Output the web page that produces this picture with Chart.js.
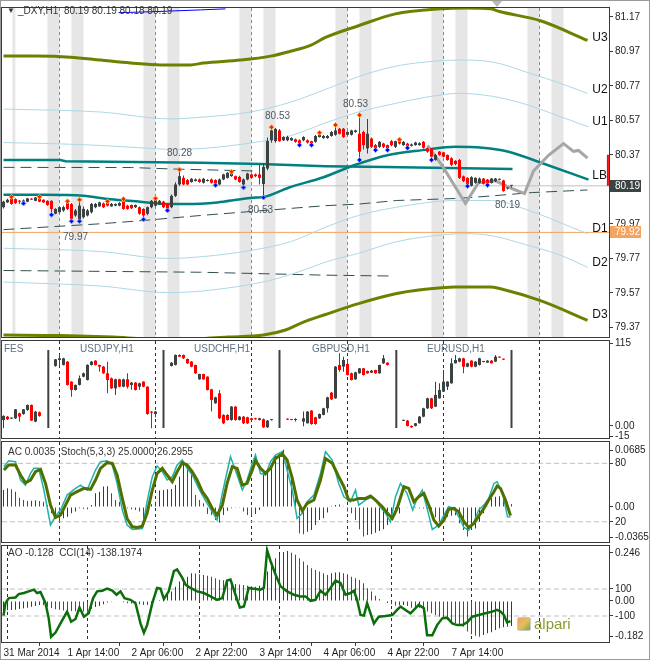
<!DOCTYPE html>
<html>
<head>
<meta charset="utf-8">
<script src="https://cdn.jsdelivr.net/npm/chart.js@4.4.1/dist/chart.umd.min.js"></script>
<style>
  body { margin: 0; background: #fff; }
  #wrap { position: relative; width: 650px; height: 660px; overflow: hidden; background: #fff;
          font-family: 'Liberation Sans', Arial, sans-serif; }
  #wrap canvas { position: absolute; left: 0; }
  .lbl { position: absolute; font-size: 10px; line-height: 12px; color: #333; white-space: pre; }
  .sym { color: #5f7080; }
  #outer { position: absolute; left: 0; top: 0; width: 648px; height: 658px; border: 1px solid #9a9a9a; pointer-events: none; }
  #logo { position: absolute; left: 517px; top: 617px; width: 12px; height: 12px; border: 1px solid #c8c8c8; border-radius: 2px;
          background: linear-gradient(135deg, #f4a460 0%, #e0c060 50%, #8aa030 100%); }
  #alpari { position: absolute; left: 534px; top: 615px; font-size: 15px; color: #8c9a30; }
  #shift { position: absolute; left: 492px; top: 1px; width: 0; height: 0; border-left: 5px solid transparent;
           border-right: 5px solid transparent; border-top: 6px solid #b8b8b8; }
</style>
</head>
<body>
<div id="wrap">
  <canvas id="c1" width="650" height="347" style="top:0px"></canvas>
  <canvas id="c2" width="650" height="120" style="top:330px"></canvas>
  <canvas id="c3" width="650" height="124" style="top:430px"></canvas>
  <canvas id="c4" width="650" height="126" style="top:534px"></canvas>

  <div class="lbl" style="left:7px;top:5px;font-size:8px">&#9660;</div>
  <div class="lbl" style="left:18px;top:5px">_DXY,H1  80.19 80.19 80.18 80.19</div>
  <div id="shift"></div>
  <div class="lbl sym" style="left:4px;top:343px">FES</div>
  <div class="lbl sym" style="left:80px;top:343px">USDJPY,H1</div>
  <div class="lbl sym" style="left:194px;top:343px">USDCHF,H1</div>
  <div class="lbl sym" style="left:312px;top:343px">GBPUSD,H1</div>
  <div class="lbl sym" style="left:427px;top:343px">EURUSD,H1</div>
  <div class="lbl" style="left:8px;top:446px">AC 0.0035  Stoch(5,3,3) 25.0000 26.2955</div>
  <div class="lbl" style="left:8px;top:547px">AO -0.128  CCI(14) -138.1974</div>
  <div id="logo"></div>
  <div id="alpari">alpari</div>
  <div id="outer"></div>
</div>

<script>
// ---- time axis (one slot per hourly bar) ----
const dayLines = [2, 26, 50, 74, 98, 122, 146];
const timeTicks = [0, 16, 32, 48, 64, 80, 96, 112];
const timeLabels = ['31 Mar 2014', '1 Apr 14:00', '2 Apr 06:00', '2 Apr 22:00', '3 Apr 14:00', '4 Apr 06:00', '4 Apr 22:00', '7 Apr 14:00'];
const sessionBands = [12.5, 18.5, 36.5, 42.5, 60.5, 66.5, 84.5, 90.5, 108.5, 114.5, 132.5, 138.5];
const sessionStub = [2.6];

// ---- _DXY H1 candles ----
const mainOpen = [
  80.066,80.094,80.120,80.113,80.103,80.095,80.098,80.113,80.103,80.117,80.109,80.103,80.103,80.028,80.037,80.047,
  80.090,80.084,80.018,79.990,80.008,80.018,80.037,80.066,80.071,80.088,80.094,80.071,80.075,80.075,80.098,80.075,
  80.079,80.066,80.066,80.056,80.028,80.066,80.075,80.085,80.098,80.085,80.066,80.132,80.198,80.236,80.223,80.212,
  80.218,80.227,80.208,80.218,80.227,80.223,80.198,80.227,80.236,80.246,80.246,80.242,80.198,80.227,80.256,80.256,
  80.256,80.200,80.290,80.454,80.449,80.511,80.454,80.454,80.454,80.460,80.454,80.454,80.454,80.449,80.445,80.473,
  80.467,80.467,80.479,80.486,80.521,80.521,80.486,80.486,80.502,80.492,80.502,80.407,80.464,80.426,80.416,80.435,
  80.426,80.449,80.416,80.454,80.426,80.435,80.422,80.426,80.426,80.445,80.407,80.407,80.340,80.388,80.384,80.369,
  80.350,80.335,80.340,80.245,80.236,80.190,80.207,80.207,80.232,80.226,80.207,80.217,80.225,80.221,80.175,80.190];
const mainHigh = [
  80.104,80.115,80.126,80.118,80.108,80.110,80.120,80.118,80.125,80.126,80.112,80.106,80.106,80.060,80.070,80.075,
  80.100,80.090,80.055,80.109,80.070,80.055,80.090,80.090,80.098,80.094,80.100,80.090,80.088,80.095,80.113,80.080,
  80.082,80.082,80.070,80.060,80.070,80.108,80.117,80.108,80.103,80.088,80.140,80.210,80.284,80.250,80.230,80.236,
  80.232,80.232,80.236,80.228,80.232,80.228,80.232,80.260,80.270,80.271,80.250,80.248,80.232,80.266,80.262,80.262,
  80.318,80.320,80.470,80.530,80.525,80.520,80.478,80.480,80.472,80.465,80.460,80.478,80.460,80.452,80.484,80.498,
  80.485,80.485,80.508,80.543,80.525,80.525,80.506,80.515,80.515,80.600,80.510,80.578,80.470,80.432,80.450,80.440,
  80.430,80.455,80.452,80.458,80.450,80.440,80.435,80.445,80.442,80.450,80.412,80.410,80.375,80.392,80.388,80.372,
  80.355,80.338,80.345,80.250,80.240,80.245,80.240,80.238,80.236,80.230,80.236,80.236,80.232,80.225,80.180,80.190];
const mainLow = [
  80.058,80.090,80.080,80.085,80.085,80.088,80.095,80.108,80.100,80.095,80.090,80.075,80.022,80.025,80.030,80.040,
  80.050,79.984,80.010,79.984,80.000,80.012,80.030,80.060,80.068,80.062,80.070,80.068,80.072,80.072,80.052,80.052,
  80.056,80.062,80.022,79.995,80.020,80.060,80.070,80.080,80.062,80.047,80.060,80.125,80.190,80.194,80.194,80.208,
  80.215,80.208,80.204,80.215,80.204,80.193,80.194,80.222,80.232,80.242,80.222,80.208,80.180,80.222,80.232,80.240,
  80.198,80.122,80.280,80.440,80.440,80.445,80.450,80.448,80.450,80.440,80.426,80.448,80.436,80.426,80.440,80.470,
  80.463,80.463,80.475,80.480,80.488,80.468,80.482,80.482,80.498,80.340,80.400,80.378,80.410,80.397,80.410,80.410,
  80.397,80.420,80.410,80.430,80.422,80.410,80.418,80.422,80.422,80.405,80.382,80.340,80.335,80.365,80.355,80.335,
  80.305,80.310,80.230,80.212,80.188,80.186,80.202,80.202,80.198,80.194,80.203,80.212,80.222,80.155,80.168,80.180];
const mainClose = [
  80.098,80.109,80.085,80.090,80.098,80.105,80.117,80.110,80.122,80.098,80.094,80.079,80.056,80.056,80.066,80.066,
  80.056,79.999,80.047,80.075,80.056,80.047,80.085,80.085,80.094,80.066,80.075,80.085,80.085,80.090,80.056,80.056,
  80.060,80.079,80.028,80.018,80.066,80.103,80.109,80.103,80.066,80.056,80.132,80.198,80.246,80.198,80.198,80.231,
  80.227,80.212,80.231,80.223,80.208,80.198,80.227,80.256,80.265,80.265,80.227,80.212,80.227,80.261,80.236,80.246,
  80.236,80.300,80.450,80.511,80.520,80.449,80.473,80.473,80.467,80.445,80.430,80.473,80.441,80.435,80.479,80.486,
  80.479,80.479,80.502,80.511,80.492,80.473,80.502,80.511,80.511,80.388,80.426,80.492,80.416,80.407,80.445,80.416,
  80.407,80.426,80.449,80.435,80.445,80.411,80.430,80.441,80.437,80.411,80.388,80.359,80.369,80.369,80.359,80.340,
  80.312,80.316,80.236,80.217,80.194,80.240,80.236,80.232,80.202,80.198,80.232,80.232,80.227,80.160,80.176,80.190];

const fractalHighs = [2, 9, 16, 19, 26, 30, 38, 44, 57, 67, 79, 83, 89, 99];
const fractalLows = [5, 12, 17, 19, 35, 41, 53, 60, 65, 74, 77, 89, 93, 96, 101, 107, 116, 121];

// ---- channel lines: [bar, price] ----
const bandU3 = [[0,80.942],[8,80.942],[16.75,80.936],[24.25,80.919],[31.75,80.902],[39.25,80.891],[46.75,80.891],[50,80.902],[59.25,80.919],[66.75,80.942],[71.75,80.970],[76.75,81.004],[80.5,81.050],[88.75,81.118],[98,81.187],[109.25,81.216],[115.5,81.221],[121.75,81.216],[124.25,81.199],[134.25,81.147],[146,81.033]];
const bandU2 = [[0,80.635],[24.25,80.618],[41.75,80.578],[50,80.589],[61.75,80.618],[71.75,80.675],[80.5,80.749],[88.75,80.823],[97.25,80.880],[105.5,80.908],[113.75,80.919],[122.25,80.908],[130.5,80.851],[138.75,80.788],[146,80.726]];
const bandU1 = [[0,80.441],[11.75,80.435],[24.25,80.424],[36.75,80.407],[41.75,80.401],[50,80.407],[59.25,80.430],[64.25,80.447],[71.75,80.481],[80.5,80.555],[88.75,80.618],[98.25,80.669],[105.5,80.703],[113.75,80.726],[122.25,80.709],[130.5,80.663],[138.75,80.595],[146.25,80.532]];
const bandD1 = [[0,79.828],[24.25,79.809],[41,79.769],[50,79.780],[61.75,79.815],[71.75,79.866],[80.5,79.950],[88.75,80.018],[98,80.065],[113.75,80.105],[122.25,80.105],[130.5,80.054],[146,79.912]];
const bandD2 = [[0,79.632],[24.25,79.609],[41,79.571],[50,79.581],[66,79.638],[74.25,79.695],[80.5,79.748],[88.75,79.799],[98.25,79.866],[109.75,79.906],[115.5,79.913],[122.25,79.900],[130.5,79.849],[138.75,79.792],[146,79.718]];
const bandD3 = [[0,79.325],[14.25,79.322],[27.5,79.313],[36.75,79.302],[46.75,79.302],[56,79.313],[65,79.325],[70.5,79.354],[74.25,79.393],[80.5,79.444],[88.75,79.507],[98,79.564],[104.25,79.587],[113,79.604],[121.75,79.604],[124.25,79.593],[134.25,79.524],[146,79.410]];
const tealFlat = [[0,80.339],[14.25,80.339],[15.5,80.333],[49.25,80.324],[64.25,80.316],[80.5,80.304],[95.5,80.299],[127.25,80.287]];
const tealCurve = [[0,80.138],[10,80.138],[20,80.132],[26.75,80.112],[34.25,80.098],[41,80.084],[46,80.084],[53.5,80.094],[59.25,80.112],[63,80.122],[65,80.125],[71.25,80.179],[80,80.240],[88,80.312],[96.25,80.369],[104.75,80.397],[113,80.417],[119.75,80.411],[126.25,80.388],[134.75,80.321],[146.25,80.226]];
const dashTop = [[0,80.297],[32,80.296],[43,80.287],[63,80.276]];
const dashSlope = [[0,79.936],[24.25,79.970],[35,79.989],[49.25,80.018],[61.75,80.041],[80.5,80.075],[88.75,80.084],[98.25,80.105],[113.75,80.117],[122.25,80.132],[132.25,80.151],[146,80.166]];
const dashLow = [[0,79.699],[49.25,79.689],[80.5,79.672],[97.25,79.667]];
const blueTop = [[28.75,81.194],[36.75,81.199],[49.25,81.210],[55.5,81.216]];
const zigzag = [[106,80.424],[109.75,80.304],[115.5,80.088],[118.75,80.208],[123,80.219],[127.25,80.173],[130.25,80.145],[132.5,80.276],[136.25,80.367],[140,80.435],[142.5,80.390],[143.75,80.395],[146,80.350]];
const lastPrice = 80.19;
const pivotLevel = 79.92;
const edgeBar = [151.1, 80.19, 80.37];

const mainTicks = [81.17, 80.97, 80.77, 80.57, 80.37, 79.97, 79.77, 79.57, 79.37];
const bandNames = [['U3',81.050],['U2',80.749],['U1',80.561],['LB',80.247],['D1',79.940],['D2',79.746],['D3',79.444]];
const notes = [[68.5,80.595,'80.53'],[88,80.663,'80.53'],[44,80.378,'80.28'],[18,79.894,'79.97'],[64.25,80.048,'80.53'],[126,80.077,'80.19']];

// ---- multi-symbol strip: [open, high, low, close] ----
const fes = [[8.1,14.5,-3.5,13.7],[12.7,13.5,8.0,9.1],[10.0,11.5,9.5,10.8],[10.4,23.5,9.5,22.9],[17.4,18,5.8,12.7],[16.4,23.5,15.5,22.9],[22.0,29.5,21,29.0],[29.0,29.5,6.5,7.2],[5.8,20.5,5,19.7],[18.8,20,12.7,13.7]];
const usdjpy = [[83.2,93,82,92.4],[91.5,99.9,83.2,93.8],[84.6,94.5,84,93.8],[89.2,90,56,56.8],[61.4,62,40.5,49.8],[49.8,57.5,49,56.8],[56.8,70,56,66.0],[68.3,74,67.5,73.0],[63.7,85.5,63,84.6],[84.6,90,84,89.2],[90.6,91,84,84.6],[84.6,85,75.3,82.2],[82.2,83,72,73.0],[73.0,89.2,45.2,63.7],[66.0,67,51,52.1],[52.1,65.5,42.9,64.6],[64.6,65.5,53.5,54.4],[54.4,65.5,53.5,64.6],[64.6,73,52,54.4],[56.8,61,50,60.0],[60.0,61,49,49.8],[54.4,60,50,59.1],[61.4,62,53.5,54.4],[54.4,55,15.5,16.4],[19.7,20.5,-3.5,18.3],[16.4,20.5,11.8,19.7]];
const usdchf = [[83.2,88.5,82.5,87.8],[84.6,99,84,98.5],[98.5,99,95.5,96.1],[98.5,99,93,93.8],[92.9,93.5,86,86.9],[89.2,90,81.5,82.2],[84.6,85,72,73.0],[64.6,72.5,64,72.0],[72.0,72.5,64,64.6],[68.3,69,49,49.8],[50.7,51.5,19.7,35.9],[31.3,40.5,30.5,39.6],[45.2,49.8,9.5,10.4],[15.1,16,2.5,3.5],[15.1,16,7.2,8.1],[8.1,27.5,7,26.6],[26.6,27.5,7,8.1],[8.1,13.5,7.5,12.7],[12.7,13.5,2.5,3.5],[11.8,12.5,2.5,3.5],[10.4,11,7.5,8.1],[10.4,11,8.5,9.1],[8.1,11,7.5,10.4],[9.1,10,-3,-2.1],[-2.1,8,-3,7.2],[7.8,9,7.2,8.4]];
const gbpusd = [[9.6,10,8.2,8.6],[9.1,9.5,7.7,8.1],[8,10.4,5.8,8.5],null,[5.8,19.7,-0.7,10.4],[3.5,20.5,3,19.7],[21.1,22,1.5,2.5],[11.8,12.5,1.5,2.5],[10.4,17,9.5,16.4],[15.1,25,14.5,24.3],[24.3,40.5,18.3,39.6],[46.1,47,36,36.8],[38.2,83,37.5,82.2],[84.6,100.8,75.3,77.6],[82.2,96.1,75.3,91.5],[86,91.5,70,70.7],[73.0,74,63,63.7],[64.6,75,64,74.4],[73.0,80.5,72.5,79.9],[79.9,80.5,70,70.7],[76.2,77,72.5,73.0],[73.9,77.5,73.5,76.7],[77.6,78,72.5,73.0],[73.0,85,72.5,84.6],[86.9,98.5,86,93.8],[87.8,88.5,84,84.6]];
const eurusd = [[6.9,8.5,6.5,7.6],[7.2,8,-1,-0.2],[-0.2,0.5,-2.8,-2.1],[-0.2,4,-1,3.5],[3.5,13.5,3,12.7],[12.7,25,12,24.3],[24.3,39,23.5,38.2],[38.2,39,23.5,24.3],[26.6,61.4,26,42.9],[38.2,59.1,37.5,49.8],[47.5,77.6,47,61.4],[54.4,62,49.8,61.4],[59.1,93.8,58.5,86.9],[86.9,98.5,86.5,91.5],[89.2,94.5,88.5,93.8],[93.8,94.5,73.0,82.2],[82.2,87.5,81.5,86.9],[90.6,91,81.5,82.2],[82.2,90,81.5,89.2],[84.6,94.5,84,93.8],[88.8,90,88.5,89.6],[87.8,91,87.5,90.6],[90.6,91.5,86.5,86.9],[89.2,98.5,88.8,96.1],[95.7,96.1,94.5,94.8],[92.9,93.3,91.5,92.0]];
const miniStarts = [0, 13, 42, 71, 100];
const miniDividers = [11.2, 40, 69, 98.2, 127];
const miniTicks = [115, 0, -15];

// ---- AC + Stochastic ----
const ac = [
  0.0205,0.0225,0.0213,0.0185,0.0113,0.0085,0.0072,0.0076,0.0080,0.0072,0.0064,0.0024,-0.0076,-0.0137,-0.0177,-0.0137,
  -0.0117,-0.0076,-0.0056,-0.0016,-0.0020,-0.0028,0.0024,0.0165,0.0185,0.0246,0.0250,0.0165,0.0085,0.0064,0.0044,-0.0016,
  -0.0028,-0.0036,-0.0056,-0.0149,-0.0076,0.0032,0.0064,0.0200,0.0205,0.0213,0.0217,0.0266,0.0366,0.0519,0.0487,0.0447,
  0.0145,0.0085,0.0044,-0.0085,-0.0097,-0.0157,-0.0189,-0.0097,-0.0044,-0.0016,-0.0008,-0.0004,-0.0056,-0.0097,-0.0109,-0.0085,
  -0.0036,0.0407,0.0447,0.0527,0.0628,0.0650,0.0690,0.0568,0.0346,0.0205,-0.0318,-0.0330,-0.0300,-0.0278,-0.0217,-0.0157,
  -0.0137,-0.0068,0.0012,0.0024,0.0030,0.0004,-0.0056,-0.0076,-0.0157,-0.0270,-0.0358,-0.0338,-0.0330,-0.0310,-0.0290,-0.0270,
  -0.0217,-0.0157,-0.0097,-0.0080,-0.0006,-0.0008,-0.0010,-0.0012,-0.0014,-0.0018,-0.0036,-0.0097,-0.0125,-0.0177,-0.0157,-0.0117,
  -0.0105,-0.0100,-0.0197,-0.0278,-0.0358,-0.0278,-0.0260,-0.0177,-0.0076,0.0004,0.0105,0.0125,0.0130,0.0093,0.0040,0.0035];
const stochSignal = [[0.1,73.1],[1.3,78.3],[3,78.3],[4.25,68.0],[5.5,60.1],[6.75,62.9],[8,71.4],[9.25,73.8],[10.5,59.4],[11.75,37.1],[13,24.4],[14.25,26.8],[15.5,37.1],[16.75,47.4],[18.4,50.9],[20.1,54.3],[21.75,53.3],[23,62.9],[24.25,74.9],[25.9,80.7],[27.2,80.0],[28.4,68.0],[29.7,44.0],[30.9,23.4],[32.2,14.8],[33.4,14.2],[34.7,15.5],[35.9,28.6],[37.2,52.6],[38.4,69.7],[39.7,74.9],[40.9,68.0],[42.2,61.1],[43.4,71.4],[44.7,80.7],[45.9,78.3],[47.2,71.4],[48.4,62.9],[49.7,50.9],[50.9,44.0],[52.2,33.7],[53.4,26.8],[54.7,37.1],[55.9,59.4],[57.2,76.6],[58.4,74.9],[59.7,57.7],[60.9,59.4],[62.2,73.1],[63,82.7],[64.25,74.9],[65.5,69.7],[66.75,74.9],[68,85.1],[69.7,89.6],[70.9,83.4],[72.2,64.6],[73.4,42.3],[74.7,31.3],[75.9,38.8],[77.6,42.3],[79.25,62.9],[80.5,85.0],[82.2,80.0],[83.8,66.3],[85.1,56.0],[86.3,42.3],[87.6,42.3],[88.8,44.0],[90.5,44.0],[91.75,46.4],[93,42.3],[94.7,35.4],[95.9,29.2],[97.2,23.4],[98.4,33.7],[100.1,56.0],[101.3,54.3],[102.6,40.6],[103.8,45.7],[105.1,49.1],[106.3,37.1],[107.6,21.7],[108.8,15.5],[110.1,21.7],[111.3,32.7],[112.6,33.7],[113.8,30.3],[115.1,20.0],[116.3,14.2],[117.6,18.3],[118.8,25.8],[120.1,33.7],[121.3,42.3],[122.6,50.9],[123.4,56.7],[124.25,54.3],[125.5,42.3],[126.75,26.3]];
const stochMain = [[0.1,76.6],[1.3,82.7],[3,81.7],[4.25,62.9],[5.5,57.7],[6.75,69.7],[7.6,74.9],[8.8,74.9],[10.1,52.6],[11.75,16.6],[13,25.8],[14.25,32.0],[15.9,47.4],[18,54.3],[19.25,57.7],[20.9,52.6],[23,73.1],[24.25,81.7],[25.9,82.7],[27.2,78.3],[28.4,59.4],[29.7,32.0],[30.9,16.6],[32.2,12.1],[34.7,13.1],[35.9,40.6],[37.2,66.3],[38.4,77.3],[39.7,71.4],[40.9,62.9],[42.2,66.3],[43.4,78.3],[44.7,83.4],[45.9,74.9],[47.2,68.0],[48.4,57.7],[49.7,47.4],[50.9,38.8],[52.2,30.3],[53.4,21.7],[54.7,49.1],[55.9,71.4],[56.75,86.9],[58.4,68.0],[59.7,52.6],[60.9,62.9],[62.2,80.0],[63,88.6],[64.25,69.7],[65.5,68.0],[66.75,81.7],[68,88.6],[69.7,92.0],[70.9,73.1],[72.2,52.6],[73.4,23.4],[74.7,28.6],[75.9,40.6],[77.6,47.4],[79.25,69.7],[80.5,92.0],[82.2,83.4],[83.8,59.4],[85.1,45.7],[86.75,40.6],[88,52.6],[88.8,37.1],[90.5,42.3],[92.2,45.7],[93.8,37.1],[95.5,28.6],[96.75,20.0],[98,45.7],[99.25,59.4],[100.9,49.1],[102.3,32.0],[103.4,44.0],[104.7,52.6],[106,32.0],[107.2,12.1],[108.8,16.6],[110.1,26.8],[111.3,35.4],[112.6,33.7],[113.8,25.1],[115.1,14.2],[116.3,11.4],[117.6,20.0],[118.8,32.0],[120.1,37.1],[121.3,44.0],[122.6,59.4],[123.4,61.1],[124.8,49.1],[126,25.1],[126.75,25.0]];
const stochLevels = [80, 20];

// ---- AO + CCI ----
const ao = [
  -0.048,-0.047,-0.046,-0.045,-0.041,-0.037,-0.034,-0.029,-0.026,-0.020,-0.022,-0.029,-0.036,-0.042,-0.045,-0.048,
  -0.050,-0.051,-0.052,-0.053,-0.054,-0.055,-0.040,-0.030,-0.026,-0.017,-0.008,-0.004,-0.002,-0.003,-0.007,-0.011,
  -0.013,-0.015,-0.017,-0.020,-0.021,-0.012,-0.003,0.005,0.017,0.031,0.048,0.073,0.099,0.116,0.124,0.141,
  0.140,0.136,0.133,0.129,0.124,0.116,0.108,0.106,0.102,0.096,0.087,0.084,0.082,0.078,0.075,0.073,
  0.078,0.099,0.150,0.192,0.218,0.235,0.250,0.255,0.246,0.236,0.218,0.201,0.184,0.167,0.158,0.150,
  0.141,0.133,0.141,0.146,0.147,0.141,0.136,0.124,0.116,0.107,0.090,0.065,0.048,0.027,0.010,-0.002,
  -0.010,-0.017,-0.024,-0.022,-0.020,-0.026,-0.034,-0.041,-0.034,-0.046,-0.054,-0.063,-0.071,-0.080,-0.088,-0.097,
  -0.105,-0.114,-0.122,-0.131,-0.156,-0.170,-0.177,-0.182,-0.173,-0.165,-0.160,-0.148,-0.139,-0.134,-0.131,-0.128];
const cci = [[0,-97.5],[0.5,-5],[1.33,32.5],[3,37.5],[3.8,62.5],[5.1,70],[6.3,82.5],[7.6,95],[8.4,70],[9.25,77.5],[10.5,-5],[11.3,-117.5],[11.9,-255],[13,-222.5],[14.25,-155],[15.9,-67.5],[16.9,-142.5],[18,-122.5],[19,-37.5],[20.1,-105],[21.3,-80],[22.4,32.5],[23.4,82.5],[24.7,87.5],[25.9,102.5],[27.2,87.5],[28.25,57.5],[29.25,82.5],[30.25,32.5],[31.75,20],[33,-5],[34.25,-155],[35.1,-225],[35.9,-167.5],[37.2,-5],[38.4,107.5],[39.25,102.5],[40.1,25],[41.3,82.5],[42.6,232.5],[43.4,245],[44.7,182.5],[45.5,132.5],[46.75,107.5],[48.4,82.5],[50.1,70],[51.75,45],[53.4,20],[54.7,32.5],[55.9,162.5],[56.75,170],[58,57.5],[59.1,-37.5],[60.1,-30],[61.3,107.5],[62.6,102.5],[64.25,95],[65.1,107.5],[65.9,387.5],[66.75,307.5],[68,207.5],[69.25,120],[70.9,82.5],[72.6,57.5],[74.25,45],[75.5,45],[76.75,12.5],[78,20],[79.25,87.5],[80.5,57.5],[81.75,107.5],[83,162.5],[84.25,145],[85.5,57.5],[86.75,70],[87.6,87.5],[88.4,20],[89.25,-92.5],[90.1,-97.5],[90.9,-5],[91.75,-80],[92.6,-155],[93.8,-105],[95.5,-100],[97.2,-92.5],[98.4,-55],[99.25,-30],[100.5,-55],[101.75,-80],[102.6,-55],[103.8,-17.5],[105.1,-42.5],[105.9,-242.5],[107.2,-242.5],[108.4,-167.5],[109.7,-117.5],[110.9,-112.5],[112.2,-155],[113.4,-167.5],[114.7,-167.5],[115.9,-147.5],[117.2,-105],[118.8,-92.5],[120.5,-80],[122.2,-67.5],[123.4,-55],[124.25,-67.5],[125.1,-92.5],[125.9,-147.5],[126.75,-138.2]];
const cciLevels = [100, -100];

// ---- scale ranges ----
const X_MIN = -0.375, X_MAX = 151.375;
const MAIN_MIN = 79.3135, MAIN_MAX = 81.221;
const MINI_MIN = -17.0, MINI_MAX = 117.9;
const ST_MIN = -0.8, ST_MAX = 101.95, AC_MIN = -0.0423, AC_MAX = 0.0785;
const AO_MIN = -0.2092, AO_MAX = 0.2806, CCI_MIN = -292.6, CCI_MAX = 418.5;

const UP = '#3c4242', DOWN = '#ff0000', GREEN = '#006400', FRAME = '#3a3a3a';
Chart.defaults.font.family = "'Liberation Sans', Arial, sans-serif";
Chart.defaults.font.size = 10;

function pts(list) { return list.map(p => ({x: p[0], y: p[1]})); }

function line(list, color, width, extra) {
  return Object.assign({type: 'line', data: pts(list), borderColor: color, borderWidth: width,
    pointRadius: 0, fill: false, order: 5}, extra || {});
}

function level(v, color, dash, axis) {
  return {type: 'line', data: [{x: X_MIN, y: v}, {x: X_MAX, y: v}], borderColor: color, borderWidth: 1,
    borderDash: dash || [], pointRadius: 0, yAxisID: axis || 'y', order: 8};
}

// floating bars: 1px wick, 3px body, no anti-alias inflation
function bar(data, color, thickness, order, extra) {
  return Object.assign({type: 'bar', data: data, backgroundColor: color, barThickness: thickness,
    inflateAmount: 0, grouped: false, order: order}, extra || {});
}

function candleSets(rows, start) {
  const wick = [], body = [], col = [];
  rows.forEach((r, k) => {
    if (!r) return;
    wick.push({x: start + k, y: [r[2], r[1]]});
    body.push({x: start + k, y: [r[0], r[3]]});
    col.push(r[3] >= r[0] ? UP : DOWN);
  });
  return [bar(wick, col, 1, 2), bar(body, col, 3, 1, {minBarLength: 1})];
}

function histogram(values) {
  const col = values.map((v, i) => (i > 0 && v < values[i - 1]) ? DOWN : GREEN);
  return bar(values.map((v, i) => ({x: i, y: v})), col, 1, 3);
}

function isDay(c) { return !!(c && c.tick) && dayLines.indexOf(c.tick.value) >= 0; }

function dayAxis(bottom) {
  return {
    type: 'linear', min: X_MIN, max: X_MAX, offset: false,
    afterBuildTicks: s => { s.ticks = (bottom ? dayLines.concat(timeTicks).sort((a, b) => a - b) : dayLines).map(v => ({value: v})); },
    afterFit: s => { s.height = bottom ? 18 : 0; },
    ticks: {display: !!bottom, autoSkip: false, maxRotation: 0, align: 'start', padding: 1, color: '#1e1e1e',
            callback: v => { const k = timeTicks.indexOf(v); return k >= 0 ? timeLabels[k] : ''; }},
    grid: {color: c => isDay(c) ? '#2e2e2e' : 'rgba(0,0,0,0)', lineWidth: 1, drawTicks: !!bottom, tickLength: 4,
           tickColor: c => isDay(c) ? 'rgba(0,0,0,0)' : FRAME},
    border: {display: !!bottom, color: FRAME, dash: [3, 3]}
  };
}

function rightAxis(min, max, ticks, labels) {
  return {
    type: 'linear', position: 'right', min: min, max: max,
    afterFit: s => { s.width = 41; },
    afterBuildTicks: s => { s.ticks = ticks.map(v => ({value: v})); },
    ticks: {autoSkip: false, padding: 2, color: '#1e1e1e', callback: (v, i) => labels[i]},
    grid: {drawOnChartArea: false, tickLength: 4, color: FRAME},
    border: {color: FRAME}
  };
}

const frame = {
  id: 'frame',
  afterDraw(chart) {
    const a = chart.chartArea, ctx = chart.ctx;
    ctx.save();
    ctx.strokeStyle = FRAME;
    ctx.lineWidth = 1;
    ctx.strokeRect(a.left - 0.5, a.top - 0.5, a.right - a.left + 1, a.bottom - a.top + 1);
    ctx.restore();
  }
};

const mainText = {
  id: 'mainText',
  afterDraw(chart) {
    const ctx = chart.ctx, xs = chart.scales.x, ys = chart.scales.y;
    ctx.save();
    ctx.textBaseline = 'middle';
    ctx.font = "10px 'Liberation Sans', Arial";
    ctx.textAlign = 'center';
    ctx.fillStyle = '#4e5a66';
    notes.forEach(n => ctx.fillText(n[2], xs.getPixelForValue(n[0]), ys.getPixelForValue(n[1])));
    ctx.textAlign = 'left';
    ctx.font = "12px 'Liberation Sans', Arial";
    ctx.fillStyle = '#111';
    bandNames.forEach(b => ctx.fillText(b[0], xs.getPixelForValue(147.2), ys.getPixelForValue(b[1])));
    ctx.font = "10px 'Liberation Sans', Arial";
    [[lastPrice, '#3c4343'], [pivotLevel, '#f4a460']].forEach(p => {
      const y = Math.round(ys.getPixelForValue(p[0]));
      ctx.fillStyle = p[1];
      ctx.fillRect(chart.chartArea.right + 1, y - 6, 31, 12);
      ctx.fillStyle = '#fff';
      ctx.fillText(p[0].toFixed(2), chart.chartArea.right + 6, y);
    });
    ctx.restore();
  }
};

function opts(pad, scales) {
  return {
    animation: false, responsive: false, maintainAspectRatio: false,
    layout: {padding: pad, autoPadding: false},
    plugins: {legend: {display: false}, tooltip: {enabled: false}},
    scales: scales
  };
}

// ---- main chart ----
const mainRows = mainOpen.map((o, i) => [o, mainHigh[i], mainLow[i], mainClose[i]]);
const mainSets = candleSets(mainRows, 0).concat([
  {type: 'line', data: fractalHighs.map(i => ({x: i, y: mainHigh[i]})), showLine: false, pointStyle: 'rectRot',
   pointRadius: 2.5, pointBackgroundColor: '#ff2000', pointBorderColor: '#ffb040', pointBorderWidth: 1, order: 0},
  {type: 'line', data: fractalLows.map(i => ({x: i, y: mainLow[i]})), showLine: false, pointStyle: 'rectRot',
   pointRadius: 2.5, pointBackgroundColor: '#0000ff', pointBorderColor: '#80b0ff', pointBorderWidth: 1, order: 0},
  line(zigzag, '#a6a6a6', 3, {order: 3}),
  line(bandU3, '#6b8200', 3, {cubicInterpolationMode: 'monotone'}),
  line(bandD3, '#6b8200', 3, {cubicInterpolationMode: 'monotone'}),
  line(bandU2, '#add8e6', 1, {cubicInterpolationMode: 'monotone'}),
  line(bandU1, '#add8e6', 1, {cubicInterpolationMode: 'monotone'}),
  line(bandD1, '#add8e6', 1, {cubicInterpolationMode: 'monotone'}),
  line(bandD2, '#add8e6', 1, {cubicInterpolationMode: 'monotone'}),
  line(tealFlat, '#008080', 2.5),
  line(tealCurve, '#008080', 2.5, {cubicInterpolationMode: 'monotone'}),
  line(dashTop, '#2f4f4f', 1, {borderDash: [11, 6]}),
  line(dashSlope, '#2f4f4f', 1, {borderDash: [11, 6]}),
  line(dashLow, '#2f4f4f', 1, {borderDash: [11, 6]}),
  line(blueTop, '#0000ff', 1),
  level(lastPrice, '#c0c0c0'),
  level(pivotLevel, '#f4a460'),
  bar([{x: edgeBar[0], y: [edgeBar[1], edgeBar[2]]}], DOWN, 2, 1),
  bar(sessionBands.map(i => ({x: i, y: [MAIN_MIN, MAIN_MAX]})), '#e6e6e6', 12, 30),
  bar(sessionStub.map(i => ({x: i, y: [MAIN_MIN, MAIN_MAX]})), '#e6e6e6', 3, 30)
]);
new Chart(document.getElementById('c1'), {
  type: 'bar', data: {datasets: mainSets},
  options: opts({left: 2, right: 0, top: 2, bottom: 10}, {
    x: dayAxis(false),
    y: rightAxis(MAIN_MIN, MAIN_MAX, mainTicks, mainTicks.map(v => v.toFixed(2)))
  }),
  plugins: [frame, mainText]
});

// ---- multi-symbol strip ----
let miniSets = [];
[fes, usdjpy, usdchf, gbpusd, eurusd].forEach((rows, k) => { miniSets = miniSets.concat(candleSets(rows, miniStarts[k])); });
miniSets.push(bar(miniDividers.map(i => ({x: i, y: [-3.1, 105.4]})), UP, 2, 4));
new Chart(document.getElementById('c2'), {
  type: 'bar', data: {datasets: miniSets},
  options: opts({left: 2, right: 0, top: 11, bottom: 12}, {
    x: dayAxis(false),
    y: rightAxis(MINI_MIN, MINI_MAX, miniTicks, ['115', '0.00', '-15'])
  }),
  plugins: [frame]
});

// ---- AC + Stochastic ----
const acAt = s => AC_MIN + (s - ST_MIN) / (ST_MAX - ST_MIN) * (AC_MAX - AC_MIN);
new Chart(document.getElementById('c3'), {
  type: 'bar',
  data: {datasets: [
    histogram(ac),
    line(stochMain, '#20b2aa', 1.5, {yAxisID: 'y2', order: 2}),
    line(stochSignal, '#4f7000', 3, {yAxisID: 'y2', order: 1}),
    level(stochLevels[0], '#c0c0c0', [5, 3], 'y2'),
    level(stochLevels[1], '#c0c0c0', [5, 3], 'y2')
  ]},
  options: opts({left: 2, right: 0, top: 12, bottom: 12}, {
    x: dayAxis(false),
    y: rightAxis(AC_MIN, AC_MAX, [0.0685, acAt(80), 0, acAt(20), -0.0365], ['0.0685', '80', '0.00', '20', '-0.0365']),
    y2: {type: 'linear', display: false, min: ST_MIN, max: ST_MAX}
  }),
  plugins: [frame]
});

// ---- AO + CCI ----
const aoAt = c => AO_MIN + (c - CCI_MIN) / (CCI_MAX - CCI_MIN) * (AO_MAX - AO_MIN);
new Chart(document.getElementById('c4'), {
  type: 'bar',
  data: {datasets: [
    histogram(ao),
    line(cci, '#0b6e0b', 2.5, {yAxisID: 'y2', order: 1}),
    level(cciLevels[0], '#c0c0c0', [5, 3], 'y2'),
    level(cciLevels[1], '#c0c0c0', [5, 3], 'y2')
  ]},
  options: opts({left: 2, right: 0, top: 12, bottom: 0}, {
    x: dayAxis(true),
    y: rightAxis(AO_MIN, AO_MAX, [0.246, aoAt(100), 0, aoAt(-100), -0.182], ['0.246', '100', '0.00', '-100', '-0.182']),
    y2: {type: 'linear', display: false, min: CCI_MIN, max: CCI_MAX}
  }),
  plugins: [frame]
});
</script>
</body>
</html>
